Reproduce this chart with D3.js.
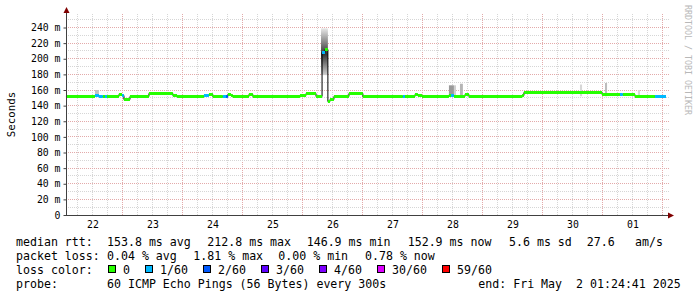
<!DOCTYPE html>
<html>
<head>
<meta charset="utf-8">
<script src="https://cdn.jsdelivr.net/npm/d3@7"></script>
<style>
  body { margin: 0; background: #fff; }
  svg text { font-family: 'DejaVu Sans Mono', monospace; fill: #000; white-space: pre; }
</style>
</head>
<body>
<svg id="chart" width="697" height="297"></svg>
<script>
// window shown by the graph
const startTime = '2025-04-22 01:24:41';
const endTime = '2025-05-02 01:24:41';

// day labels (placed at noon of each day)
const dayLabelDates = ['2025-04-22', '2025-04-23', '2025-04-24', '2025-04-25', '2025-04-26',
  '2025-04-27', '2025-04-28', '2025-04-29', '2025-04-30', '2025-05-01'];

// y ticks in ms
const yTickValues = [0, 20, 40, 60, 80, 100, 120, 140, 160, 180, 200, 220, 240];

// median rtt, one value per step start, with the loss level index of that step
const stepTimes = [
  '2025-04-22 01:24', '2025-04-22 13:00', '2025-04-22 14:35', '2025-04-22 16:10', '2025-04-22 17:00',
  '2025-04-22 17:50', '2025-04-22 22:35', '2025-04-22 23:50', '2025-04-23 00:35', '2025-04-23 03:00',
  '2025-04-23 10:35', '2025-04-23 20:10', '2025-04-23 21:50', '2025-04-24 08:35', '2025-04-24 10:35',
  '2025-04-24 12:10', '2025-04-24 16:10', '2025-04-24 17:25', '2025-04-24 18:10', '2025-04-24 19:25',
  '2025-04-24 20:10', '2025-04-25 02:35', '2025-04-25 04:10', '2025-04-25 23:00', '2025-04-26 01:25',
  '2025-04-26 05:25', '2025-04-26 07:50', '2025-04-26 09:00', '2025-04-26 10:10', '2025-04-26 11:00',
  '2025-04-26 12:35', '2025-04-26 18:35', '2025-04-27 00:10', '2025-04-27 16:10', '2025-04-27 17:00',
  '2025-04-27 21:00', '2025-04-27 22:10', '2025-04-27 23:50', '2025-04-28 01:25', '2025-04-28 10:35',
  '2025-04-28 11:25', '2025-04-28 12:35', '2025-04-28 17:00', '2025-04-28 18:35', '2025-04-29 15:50',
  '2025-04-29 16:35', '2025-04-30 23:50', '2025-05-01 07:00', '2025-05-01 08:10', '2025-05-01 13:00',
  '2025-05-01 21:00'
];
const medianRtt = [
  152, 154, 152, 152, 152,
  152, 155, 154, 148, 152,
  156, 154, 152, 153, 155,
  152, 152, 152, 155, 153.5,
  152, 155, 152, 153.5, 156,
  152, 209, 212, 146.5, 149,
  152, 156, 152, 152, 152,
  155, 153.5, 152.5, 152, 153,
  154, 152, 155.5, 152, 153.5,
  157, 155.5, 155.5, 155.5, 152.5,
  152.5
];
const lossLevel = [
  0, 1, 1, 0, 1,
  0, 0, 1, 0, 0,
  0, 0, 0, 1, 0,
  0, 1, 2, 0, 0,
  0, 0, 0, 0, 0,
  0, 1, 0, 0, 0,
  0, 0, 0, 1, 0,
  0, 0, 0, 0, 0,
  1, 0, 0, 0, 0,
  0, 0, 1, 0, 0,
  1
];

// smoke (spread of the pings) where it shows above the median line
const smokeStart = ['2025-04-22 13:00', '2025-04-26 07:25', '2025-04-28 10:35', '2025-04-28 12:35',
  '2025-04-28 15:00', '2025-04-30 15:00', '2025-05-01 01:00', '2025-05-01 14:10'];
const smokeEnd = ['2025-04-22 14:35', '2025-04-26 10:10', '2025-04-28 12:35', '2025-04-28 13:25',
  '2025-04-28 16:10', '2025-04-30 15:50', '2025-05-01 01:50', '2025-05-01 15:00'];
const smokeLow = [152, 179, 152, 152, 152, 152, 152, 152];
const smokeHigh = [160, 239, 166, 166, 168, 167, 169, 160];
const smokeDensity = [0.3, 1, 0.6, 0.2, 0.4, 0.15, 0.35, 0.15];

// legend
const lossLabels = ['0', '1/60', '2/60', '3/60', '4/60', '30/60', '59/60'];
const lossColors = ['#26ff00', '#00b8ff', '#0059ff', '#5e00ff', '#7e00ff', '#dd00ff', '#ff0000'];
const rttStats = ['153.8 ms avg', '212.8 ms max', '146.9 ms min', '152.9 ms now', '5.6 ms sd', '27.6', 'am/s'];
const lossStats = ['0.04 % avg', '1.81 % max', '0.00 % min', '0.78 % now'];
const probeText = '60 ICMP Echo Pings (56 Bytes) every 300s';
const endText = 'end: Fri May  2 01:24:41 2025';

const parseFull = d3.timeParse('%Y-%m-%d %H:%M:%S');
const parseTime = d3.timeParse('%Y-%m-%d %H:%M');
const parseDay = d3.timeParse('%Y-%m-%d');

const vis = d3.select('#chart');
const plotLeft = 66, plotRight = 666, plotBottom = 215, plotTop = 13;

const xScale = d3.scaleTime()
  .domain([parseFull(startTime), parseFull(endTime)])
  .range([plotLeft, plotRight]);
const yScale = d3.scaleLinear()
  .domain([0, 256])
  .range([plotBottom, 15]);

const px = v => Math.round(v) + 0.5;

//Grid: minor every 6 hours / 10 ms, major every day / 20 ms
const gridG = vis.append('g');
const sixHours = d3.timeHour.every(6).range(xScale.domain()[0], xScale.domain()[1]);
sixHours.forEach(t => {
  const major = t.getHours() === 0;
  gridG.append('line')
    .attr('x1', px(xScale(t))).attr('x2', px(xScale(t)))
    .attr('y1', plotBottom).attr('y2', plotTop)
    .attr('stroke', major ? '#e3aaaa' : '#d6d6d6')
    .attr('stroke-dasharray', '1,1');
});
d3.range(10, 260, 10).forEach(v => {
  const major = v % 20 === 0;
  gridG.append('line')
    .attr('x1', plotLeft).attr('x2', 670)
    .attr('y1', px(yScale(v) - 0.5)).attr('y2', px(yScale(v) - 0.5))
    .attr('stroke', major ? '#e3aaaa' : '#d6d6d6')
    .attr('stroke-dasharray', '1,1');
});

//Smoke
const defs = vis.append('defs');
const grad = defs.append('linearGradient')
  .attr('id', 'spike')
  .attr('gradientUnits', 'userSpaceOnUse')
  .attr('x1', 0).attr('x2', 0)
  .attr('y1', yScale(239)).attr('y2', yScale(179));
grad.append('stop').attr('offset', '0').attr('stop-color', '#e8e8e8');
grad.append('stop').attr('offset', '0.45').attr('stop-color', '#555');
grad.append('stop').attr('offset', '0.55').attr('stop-color', '#333');
grad.append('stop').attr('offset', '1').attr('stop-color', '#d0d0d0');

smokeStart.forEach((s, i) => {
  const x0 = xScale(parseTime(s)), x1 = xScale(parseTime(smokeEnd[i]));
  const grey = Math.round(235 - smokeDensity[i] * 135);
  vis.append('rect')
    .attr('x', x0)
    .attr('width', x1 - x0)
    .attr('y', yScale(smokeHigh[i]))
    .attr('height', yScale(smokeLow[i]) - yScale(smokeHigh[i]))
    .attr('fill', smokeDensity[i] === 1 ? 'url(#spike)' : d3.rgb(grey, grey, grey));
});

//Median: thin black step line, then loss coloured segments on top
const points = stepTimes.map((t, i) => ({ date: parseTime(t), value: medianRtt[i], loss: lossLevel[i] }));
const lineGen = d3.line()
  .x(d => xScale(d.date))
  .y(d => px(yScale(d.value)))
  .curve(d3.curveStepAfter);

vis.append('path')
  .attr('d', lineGen(points.concat([{ date: parseFull(endTime), value: medianRtt[medianRtt.length - 1] }])))
  .attr('stroke', '#000')
  .attr('stroke-width', 1)
  .attr('fill', 'none');

points.forEach((d, i) => {
  const x0 = xScale(d.date);
  const x1 = i < points.length - 1 ? xScale(points[i + 1].date) : xScale(parseFull(endTime));
  vis.append('rect')
    .attr('x', x0)
    .attr('width', x1 - x0)
    .attr('y', Math.round(yScale(d.value)) - 1)
    .attr('height', 3)
    .attr('fill', lossColors[d.loss]);
});

//Axes
const yAxis = d3.axisLeft(yScale)
  .tickValues(yTickValues)
  .tickFormat(d => (d === 0 ? '0' : d + ' m'))
  .tickSize(3)
  .tickPadding(3);
const yG = vis.append('g')
  .attr('transform', 'translate(' + (plotLeft + 0.5) + ',0)')
  .call(yAxis);
yG.select('.domain').remove();
yG.selectAll('.tick line').attr('stroke', '#404040');
yG.selectAll('.tick text').style('font-size', '9.8px').attr('fill', '#000');

const xAxis = d3.axisBottom(xScale)
  .tickValues(dayLabelDates.map(d => d3.timeHour.offset(parseDay(d), 12)))
  .tickFormat(d3.timeFormat('%d'))
  .tickSize(0)
  .tickPadding(6.5);
const xG = vis.append('g')
  .attr('transform', 'translate(0,' + plotBottom + ')')
  .call(xAxis);
xG.select('.domain').remove();
xG.selectAll('.tick text').style('font-size', '9.8px').attr('fill', '#000');

// axis lines and arrows
vis.append('line')
  .attr('x1', plotLeft).attr('x2', 669)
  .attr('y1', plotBottom + 0.5).attr('y2', plotBottom + 0.5)
  .attr('stroke', '#404040');
vis.append('line')
  .attr('x1', plotLeft + 0.5).attr('x2', plotLeft + 0.5)
  .attr('y1', plotBottom + 1).attr('y2', 10)
  .attr('stroke', '#404040');
vis.append('path')
  .attr('d', 'M668,212.5L674,215.5L668,218.5Z')
  .attr('fill', '#800000');
vis.append('path')
  .attr('d', 'M63.5,13L66.5,7L69.5,13Z')
  .attr('fill', '#800000');

//Y-axis label
vis.append('text')
  .attr('transform', 'translate(14.5,114.5) rotate(-90)')
  .style('text-anchor', 'middle')
  .style('font-size', '10.8px')
  .text('Seconds');

// watermark
vis.append('text')
  .attr('transform', 'translate(684.5,5) rotate(90)')
  .style('font-size', '8.3px')
  .style('fill', '#b8b8b8')
  .text('RRDTOOL / TOBI OETIKER');

//Legend
const legend = vis.append('g').style('font-size', '11.6px');
const row = [245.5, 259.5, 273.5, 287.5];

legend.append('text').attr('x', 16).attr('y', row[0]).text('median rtt:');
[107, 207.3, 306.7, 407.7, 509, 586.7, 635].forEach((x, i) => {
  legend.append('text').attr('x', x).attr('y', row[0]).text(rttStats[i]);
});

legend.append('text').attr('x', 16).attr('y', row[1]).text('packet loss:');
[107, 193.3, 278.3, 365].forEach((x, i) => {
  legend.append('text').attr('x', x).attr('y', row[1]).text(lossStats[i]);
});

legend.append('text').attr('x', 16).attr('y', row[2]).text('loss color:');
let lx = 108.5;
lossLabels.forEach((label, i) => {
  legend.append('rect')
    .attr('x', lx).attr('y', 265.5)
    .attr('width', 7).attr('height', 7)
    .attr('fill', lossColors[i])
    .attr('stroke', '#000');
  legend.append('text').attr('x', lx + 14.5).attr('y', row[2]).text(label);
  lx = lx + 14.5 + label.length * 7 + 15.5;
});

legend.append('text').attr('x', 16).attr('y', row[3]).text('probe:');
legend.append('text').attr('x', 107).attr('y', row[3]).text(probeText);
legend.append('text').attr('x', 478.3).attr('y', row[3]).text(endText);
</script>
</body>
</html>
